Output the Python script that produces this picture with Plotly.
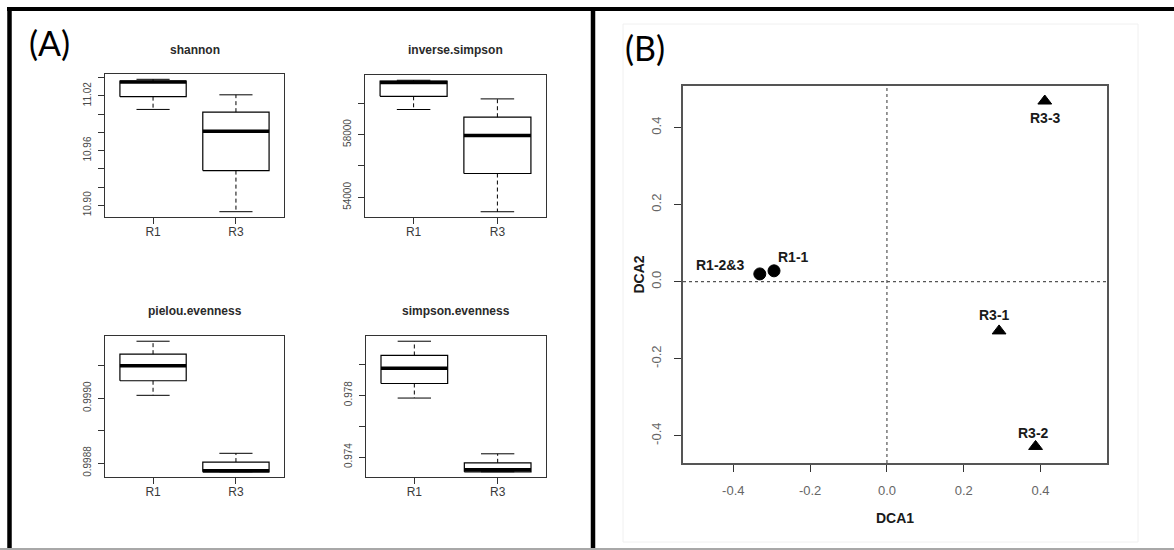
import plotly.graph_objects as go

W, H = 1174, 550

# ---------------- data: panel A (boxplot statistics) ----------------
groups = ["R1", "R3"]

shannon_lo = [11.005, 10.893]
shannon_q1 = [11.019, 10.938]
shannon_med = [11.035, 10.981]
shannon_q3 = [11.036, 11.002]
shannon_hi = [11.038, 11.021]
shannon_ticks = [10.90, 10.92, 10.94, 10.96, 10.98, 11.00, 11.02, 11.04]
shannon_labels = ["10.90", "", "", "10.96", "", "", "11.02", ""]

invsimp_lo = [59590, 53090]
invsimp_q1 = [60430, 55520]
invsimp_med = [61300, 57940]
invsimp_q3 = [61400, 59100]
invsimp_hi = [61450, 60265]
invsimp_ticks = [54000, 56000, 58000, 60000]
invsimp_labels = ["54000", "", "58000", ""]

pielou_lo = [0.999009, 0.998773]
pielou_q1 = [0.999054, 0.998773]
pielou_med = [0.999100, 0.998776]
pielou_q3 = [0.999136, 0.998803]
pielou_hi = [0.999176, 0.998830]
pielou_ticks = [0.9988, 0.9989, 0.9990, 0.9991]
pielou_labels = ["0.9988", "", "0.9990", ""]

simpeven_lo = [0.97781, 0.97305]
simpeven_q1 = [0.97875, 0.97305]
simpeven_med = [0.97974, 0.97318]
simpeven_q3 = [0.98056, 0.97363]
simpeven_hi = [0.98148, 0.97421]
simpeven_ticks = [0.974, 0.976, 0.978, 0.980]
simpeven_labels = ["0.974", "", "0.978", ""]

# ---------------- data: panel B (DCA ordination) ----------------
sites = ["R1-1", "R1-2&3", "R3-1", "R3-2", "R3-3"]
site_group = ["R1", "R1", "R3", "R3", "R3"]
dca1 = [-0.294, -0.331, 0.292, 0.387, 0.411]
dca2 = [0.028, 0.020, -0.128, -0.428, 0.469]
dca_ticks = [-0.4, -0.2, 0.0, 0.2, 0.4]

# label offsets (pixels) relative to each point – styling only
label_dx = [19, -40, -5, -2, 1]
label_dy = [14, 9, 16, 13, -17]

# ---------------- layout helpers ----------------
def dx(l, r):
    return [l / W, r / W]

def dy(t, b):
    return [1 - b / H, 1 - t / H]

LINE = "#333333"
TICKC = "#4a4a4a"
FONT = "Liberation Sans, Arial, sans-serif"

panels = [
    ("shannon", shannon_lo, shannon_q1, shannon_med, shannon_q3, shannon_hi,
     shannon_ticks, shannon_labels, dx(105, 284), dy(74, 217)),
    ("inverse.simpson", invsimp_lo, invsimp_q1, invsimp_med, invsimp_q3, invsimp_hi,
     invsimp_ticks, invsimp_labels, dx(365, 546), dy(75, 217)),
    ("pielou.evenness", pielou_lo, pielou_q1, pielou_med, pielou_q3, pielou_hi,
     pielou_ticks, pielou_labels, dx(105, 284), dy(336, 477)),
    ("simpson.evenness", simpeven_lo, simpeven_q1, simpeven_med, simpeven_q3, simpeven_hi,
     simpeven_ticks, simpeven_labels, dx(366, 546), dy(336, 477)),
]

fig = go.Figure()
layout = dict(
    width=W, height=H,
    margin=dict(l=0, r=0, t=0, b=0),
    paper_bgcolor="white", plot_bgcolor="white",
    showlegend=False,
    font=dict(family=FONT, color=TICKC),
)
annotations = []
shapes = []

HALF = 0.4   # half box width
CAP = 0.2    # half staple width

for k, (name, lo, q1, med, q3, hi, tv, tt, xd, yd) in enumerate(panels, start=1):
    xa = "x" if k == 1 else f"x{k}"
    ya = "y" if k == 1 else f"y{k}"
    bx, by, mx, my, wx, wy, cx, cy = [], [], [], [], [], [], [], []
    for i in range(len(groups)):
        c = i + 1
        bx += [c - HALF, c + HALF, c + HALF, c - HALF, c - HALF, None]
        by += [q1[i], q1[i], q3[i], q3[i], q1[i], None]
        mx += [c - HALF, c + HALF, None]
        my += [med[i], med[i], None]
        wx += [c, c, None, c, c, None]
        wy += [q3[i], hi[i], None, q1[i], lo[i], None]
        cx += [c - CAP, c + CAP, None, c - CAP, c + CAP, None]
        cy += [hi[i], hi[i], None, lo[i], lo[i], None]
    fig.add_trace(go.Scatter(x=wx, y=wy, mode="lines", xaxis=xa, yaxis=ya,
                             line=dict(color="black", width=1, dash="4px,3px"), hoverinfo="skip"))
    fig.add_trace(go.Scatter(x=cx, y=cy, mode="lines", xaxis=xa, yaxis=ya,
                             line=dict(color="black", width=1), hoverinfo="skip"))
    fig.add_trace(go.Scatter(x=bx, y=by, mode="lines", xaxis=xa, yaxis=ya,
                             line=dict(color="black", width=1.2), hoverinfo="skip"))
    fig.add_trace(go.Scatter(x=mx, y=my, mode="lines", xaxis=xa, yaxis=ya,
                             line=dict(color="black", width=3.5), hoverinfo="skip"))

    ymin, ymax = min(lo), max(hi)
    pad = (ymax - ymin) * 0.04
    key_x = "xaxis" if k == 1 else f"xaxis{k}"
    key_y = "yaxis" if k == 1 else f"yaxis{k}"
    layout[key_x] = dict(
        domain=xd, anchor=ya, range=[0.42, 2.58],
        tickvals=[1, 2], ticktext=groups,
        ticks="outside", ticklen=6, tickcolor=LINE, tickwidth=1,
        showline=True, mirror=True, linecolor=LINE, linewidth=1.2,
        showgrid=False, zeroline=False,
        tickfont=dict(size=12, color="#3a3a3a"), ticklabelstandoff=-3,
    )
    layout[key_y] = dict(
        domain=yd, anchor=xa, range=[ymin - pad, ymax + pad],
        tickvals=tv, ticktext=tt, tickangle=-90,
        ticks="outside", ticklen=6, tickcolor=LINE, tickwidth=1,
        showline=True, mirror=True, linecolor=LINE, linewidth=1.2,
        showgrid=False, zeroline=False,
        tickfont=dict(size=10, color=TICKC), ticklabelstandoff=3,
    )
    annotations.append(dict(
        text=f"<b>{name}</b>", xref=f"{xa} domain", x=0.5, yref="paper",
        y=1 - (50 if k <= 2 else 311) / H, showarrow=False,
        xanchor="center", yanchor="middle",
        font=dict(family=FONT, size=12, color="#2a2a2a"),
    ))

# ---------------- panel B ----------------
symbols = ["circle" if g == "R1" else "triangle-up" for g in site_group]
fig.add_trace(go.Scatter(
    x=dca1, y=dca2, mode="markers", xaxis="x5", yaxis="y5",
    text=sites,
    marker=dict(symbol=symbols, size=12, color="#000000", opacity=1,
                line=dict(width=1, color="#000000")),
    hoverinfo="text",
))
for s, xv, yv, ox, oy in zip(sites, dca1, dca2, label_dx, label_dy):
    annotations.append(dict(
        text=f"<b>{s}</b>", xref="x5", yref="y5", x=xv, y=yv,
        xshift=ox, yshift=oy, showarrow=False, xanchor="center", yanchor="middle",
        font=dict(family=FONT, size=14, color="#1a1a1a"),
    ))
layout["xaxis5"] = dict(
    domain=dx(683, 1107), anchor="y5", range=[-0.531, 0.573],
    tickvals=dca_ticks, ticktext=[f"{v:.1f}" for v in dca_ticks],
    ticks="outside", ticklen=7, tickcolor=LINE, tickwidth=1.2,
    showline=True, mirror=True, linecolor="#555555", linewidth=1.5,
    showgrid=False, zeroline=False,
    tickfont=dict(size=13, color="#666666"), ticklabelstandoff=8,
)
layout["yaxis5"] = dict(
    domain=dy(86, 463), anchor="x5", range=[-0.471, 0.508],
    tickvals=dca_ticks, ticktext=[f"{v:.1f}" for v in dca_ticks], tickangle=-90,
    ticks="outside", ticklen=7, tickcolor=LINE, tickwidth=1.2,
    showline=True, mirror=True, linecolor="#555555", linewidth=1.5,
    showgrid=False, zeroline=False,
    tickfont=dict(size=13, color="#666666"), ticklabelstandoff=8,
)
shapes.append(dict(type="line", xref="x5", yref="y5 domain", x0=0, x1=0, y0=0, y1=1,
                   line=dict(color="#555555", width=1.2, dash="dot"), layer="below"))
shapes.append(dict(type="line", xref="x5 domain", yref="y5", x0=0, x1=1, y0=0, y1=0,
                   line=dict(color="#555555", width=1.2, dash="dot"), layer="below"))
annotations.append(dict(text="<b>DCA1</b>", xref="x5 domain", x=0.5, yref="paper",
                        y=1 - 518 / H, showarrow=False, xanchor="center", yanchor="middle",
                        font=dict(family=FONT, size=14, color="#1a1a1a")))
annotations.append(dict(text="<b>DCA2</b>", xref="paper", x=638 / W, yref="y5 domain",
                        y=0.5, showarrow=False, xanchor="center", yanchor="middle",
                        textangle=-90, font=dict(family=FONT, size=14, color="#1a1a1a")))

# ---------------- panel letters & frame ----------------
annotations.append(dict(text="(A)", xref="paper", yref="paper", x=49 / W, y=1 - 42 / H,
                        showarrow=False, xanchor="center", yanchor="middle",
                        font=dict(family="Lato, Open Sans, sans-serif", size=34, color="black")))
annotations.append(dict(text="(B)", xref="paper", yref="paper", x=645 / W, y=1 - 47 / H,
                        showarrow=False, xanchor="center", yanchor="middle",
                        font=dict(family="Lato, Open Sans, sans-serif", size=34, color="black")))

# faint image edges of panel B
shapes.append(dict(type="rect", xref="paper", yref="paper",
                   x0=623 / W, x1=1138 / W, y0=1 - 542 / H, y1=1 - 24 / H,
                   line=dict(color="#f0f0f0", width=1), layer="below"))
# thick black frame
shapes.append(dict(type="line", xref="paper", yref="paper", x0=7 / W, x1=1, y0=1 - 9 / H, y1=1 - 9 / H,
                   line=dict(color="black", width=4)))
shapes.append(dict(type="line", xref="paper", yref="paper", x0=9.5 / W, x1=9.5 / W, y0=1 - 548 / H, y1=1 - 7 / H,
                   line=dict(color="black", width=4.5)))
shapes.append(dict(type="line", xref="paper", yref="paper", x0=593 / W, x1=593 / W, y0=1 - 548 / H, y1=1 - 7 / H,
                   line=dict(color="black", width=4.5)))
shapes.append(dict(type="line", xref="paper", yref="paper", x0=0, x1=1, y0=1 - 549 / H, y1=1 - 549 / H,
                   line=dict(color="#a8a8a8", width=2)))

layout["annotations"] = annotations
layout["shapes"] = shapes
fig.update_layout(**layout)

fig.write_html(
    "out.html",
    config={"displayModeBar": False},
    post_script="document.body.style.margin='0';document.body.style.overflow='hidden';",
)
